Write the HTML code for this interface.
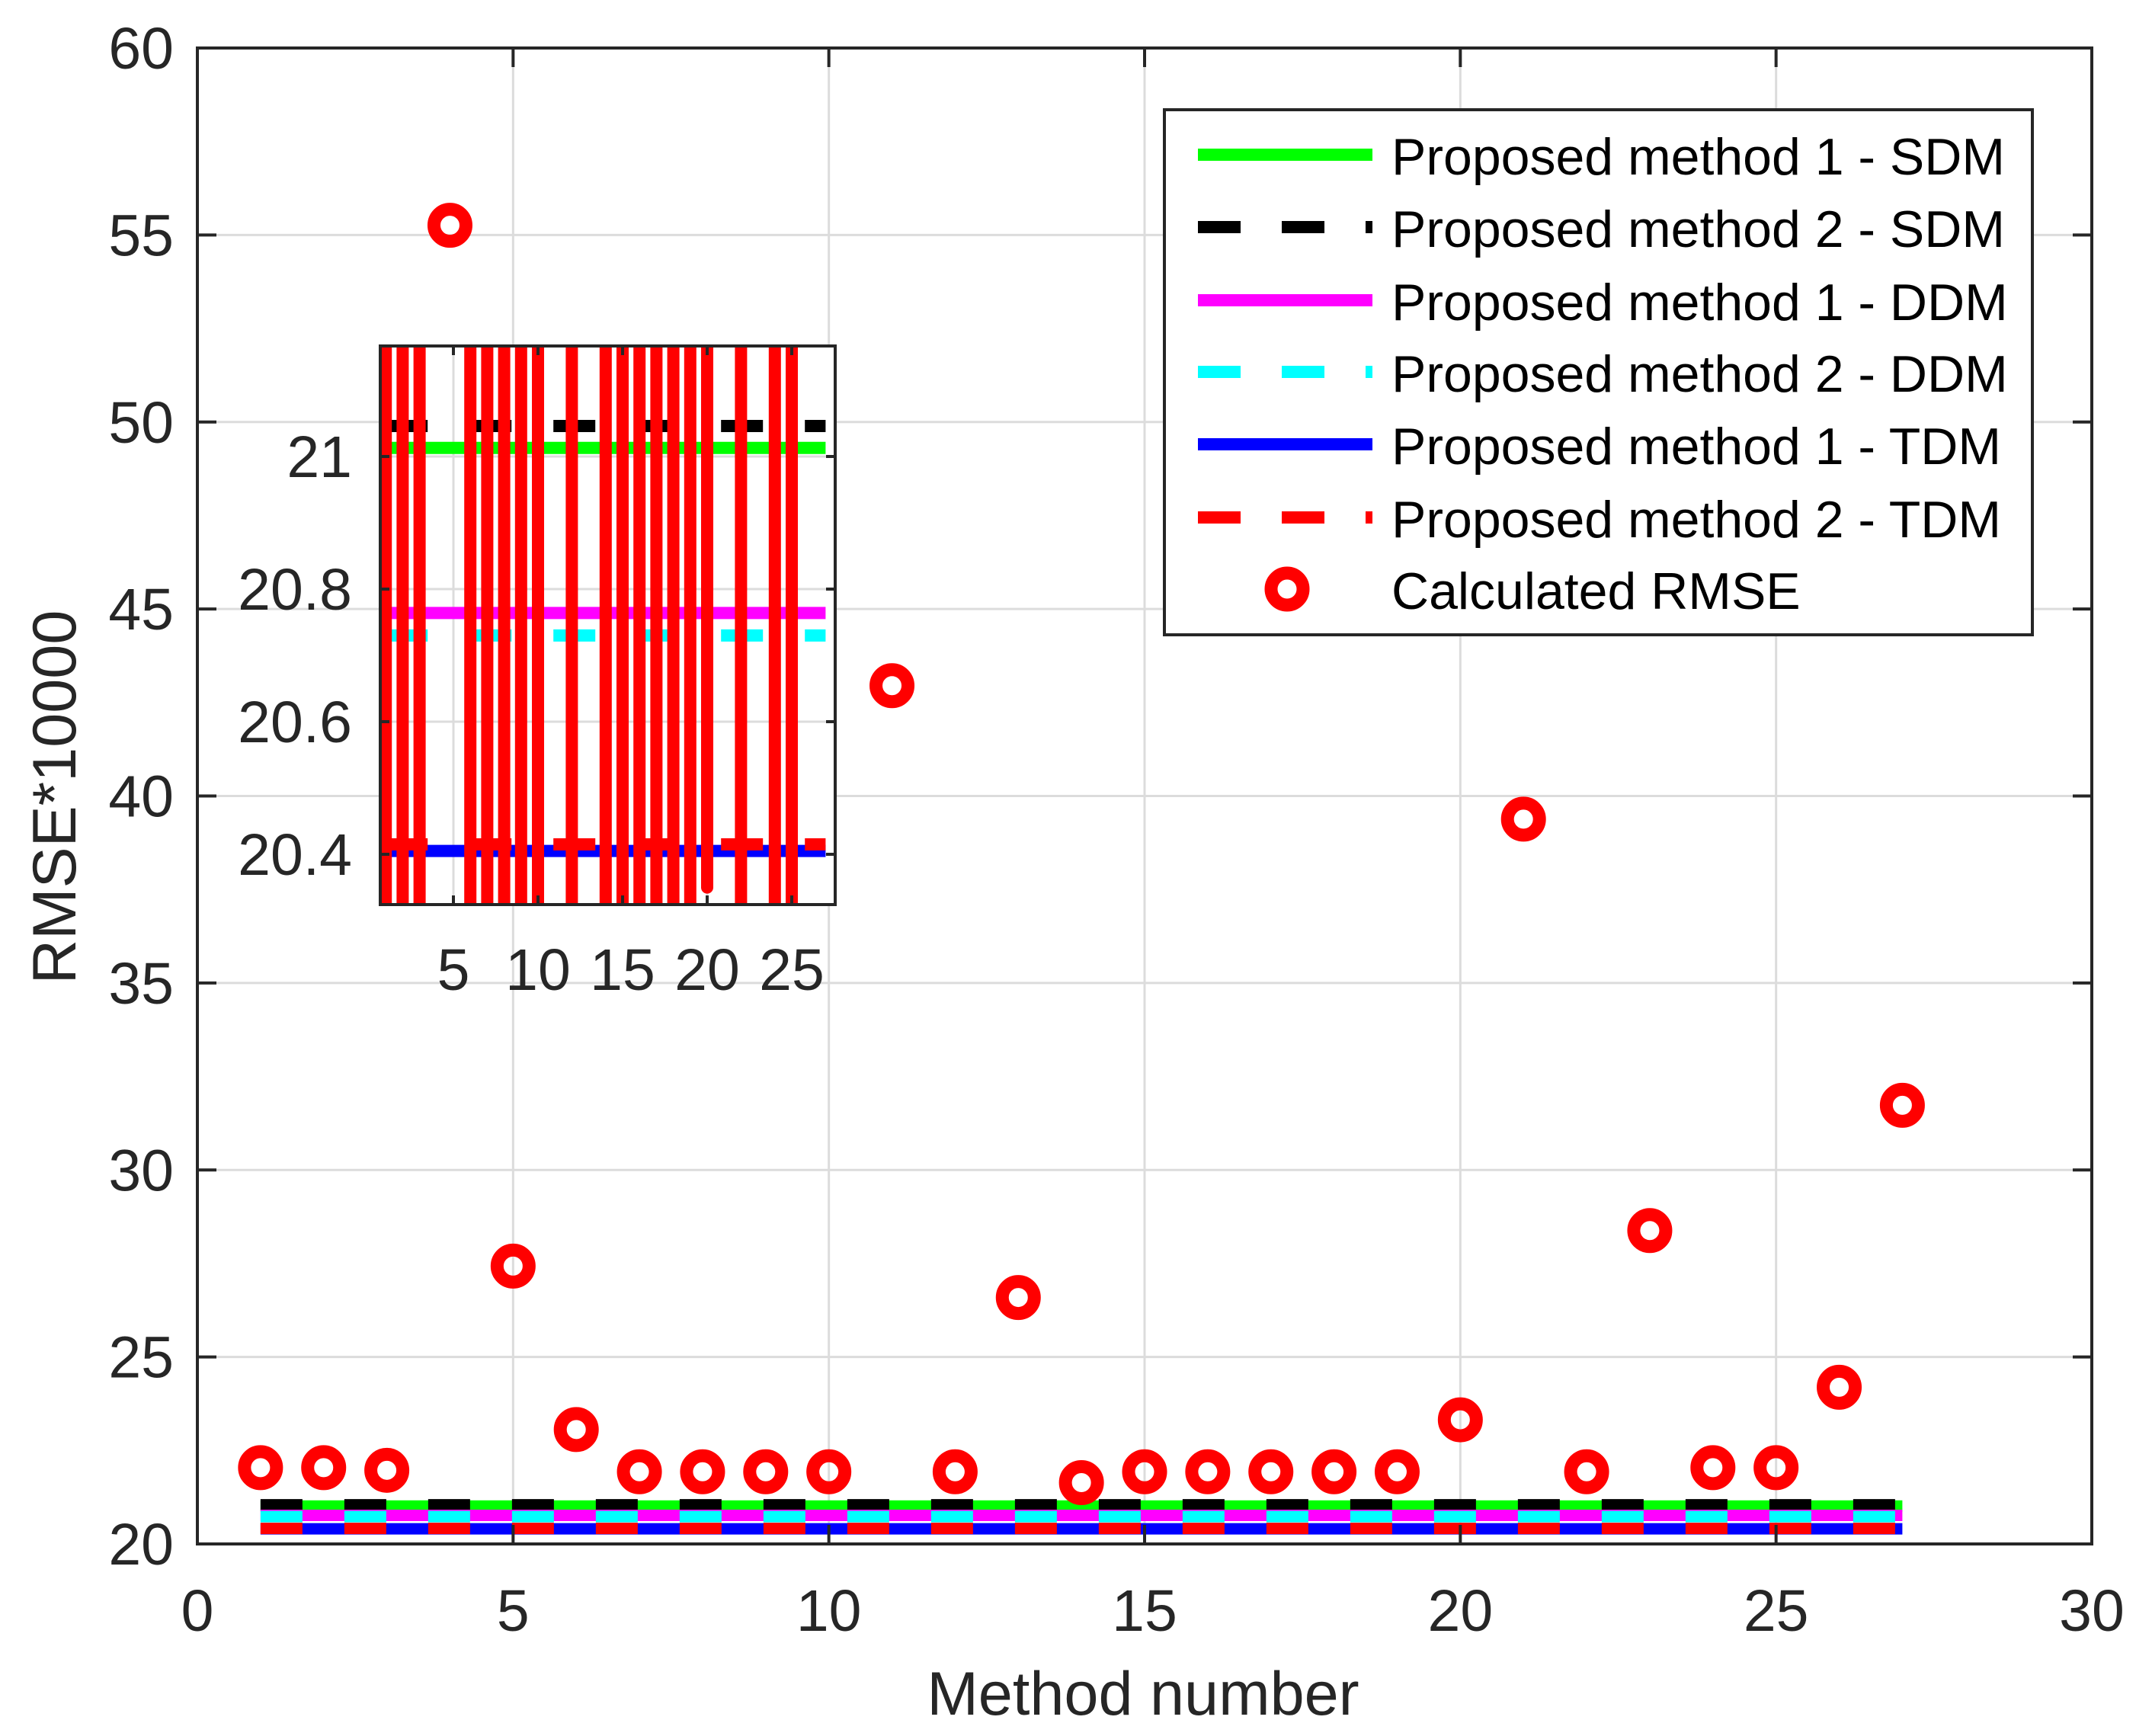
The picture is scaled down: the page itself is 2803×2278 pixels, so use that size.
<!DOCTYPE html>
<html><head><meta charset="utf-8"><style>
html,body{margin:0;padding:0;background:#fff;width:2803px;height:2278px;overflow:hidden;}
svg{display:block;font-family:"Liberation Sans",Arial,sans-serif;}
</style></head><body>
<svg id="chart" width="2803" height="2278" viewBox="0 0 2803 2278" xmlns="http://www.w3.org/2000/svg" style="overflow:hidden">
<defs>
<clipPath id="mainClip"><rect x="259" y="63" width="2486" height="1963"/></clipPath>
<clipPath id="insetClip"><rect x="499" y="454" width="597" height="733"/></clipPath>
</defs>
<g id="main"></g>
<g id="inset"></g>
<g id="legend"></g>
</svg>
<script>
const methods = [1,2,3,4,5,6,7,8,9,10,11,12,13,14,15,16,17,18,19,20,21,22,23,24,25,26,27];
const rmseValues = [22.04,22.04,21.97,55.26,27.43,23.06,21.93,21.93,21.93,21.93,42.95,21.93,26.59,21.64,21.93,21.93,21.93,21.93,21.93,23.32,39.38,21.93,28.38,22.04,22.04,24.19,31.73];
const seriesNames = ["Proposed method 1 - SDM","Proposed method 2 - SDM","Proposed method 1 - DDM","Proposed method 2 - DDM","Proposed method 1 - TDM","Proposed method 2 - TDM"];
const seriesLevels = [21.013,21.046,20.764,20.73,20.405,20.415];
const xTicks = [0,5,10,15,20,25,30];
const yTicks = [20,25,30,35,40,45,50,55,60];
const insetXTicks = [5,10,15,20,25];
const insetYTicks = [20.4,20.6,20.8,21];
const insetYTickLabels = ["20.4","20.6","20.8","21"];

const NS="http://www.w3.org/2000/svg";
function mk(tag, attrs, parent){const e=document.createElementNS(NS,tag);for(const k in attrs)e.setAttribute(k,attrs[k]);parent.appendChild(e);return e;}
const colors=["#00ff00","#000000","#ff00ff","#00ffff","#0000ff","#ff0000"];
const dashed=[false,true,false,true,false,true];
const TXT="#262626";

const L=259,R=2745,T=63,B=2026;
const xS=v=>L+(v-0)/(30-0)*(R-L);
const yS=v=>B-(v-20)/(60-20)*(B-T);
const main=document.getElementById('main');
mk('rect',{x:L,y:T,width:R-L,height:B-T,fill:'#fff'},main);
const grid=mk('g',{stroke:'#dcdcdc','stroke-width':3},main);


xTicks.forEach(v=>{mk('line',{x1:xS(v),x2:xS(v),y1:T,y2:B},grid);});
yTicks.forEach(v=>{mk('line',{x1:L,x2:R,y1:yS(v),y2:yS(v)},grid);});
const ml=mk('g',{'clip-path':'url(#mainClip)'},main);
seriesLevels.forEach((lv,i)=>{
  const l=mk('line',{x1:xS(methods[0]),x2:xS(methods[methods.length-1]),y1:yS(lv),y2:yS(lv),stroke:colors[i],'stroke-width':15},ml);
  if(dashed[i]) l.setAttribute('stroke-dasharray','55 55');
  
  
});
methods.forEach((m,i)=>{
  const c=mk('circle',{cx:xS(m),cy:yS(rmseValues[i]),r:21,fill:'none',stroke:'#ff0000','stroke-width':17},ml);
  
  
});
mk('rect',{x:L,y:T,width:R-L,height:B-T,fill:'none',stroke:TXT,'stroke-width':4},main);
const tk=mk('g',{stroke:TXT,'stroke-width':4},main);
xTicks.forEach(v=>{mk('line',{x1:xS(v),x2:xS(v),y1:B,y2:B-25},tk);mk('line',{x1:xS(v),x2:xS(v),y1:T,y2:T+25},tk);});
yTicks.forEach(v=>{mk('line',{x1:L,x2:L+25,y1:yS(v),y2:yS(v)},tk);mk('line',{x1:R,x2:R-25,y1:yS(v),y2:yS(v)},tk);});
xTicks.forEach(v=>{const t=mk('text',{x:xS(v),y:2140,'text-anchor':'middle','font-size':77,fill:TXT},main);t.textContent=v;
  
  });
yTicks.forEach(v=>{const t=mk('text',{x:228,y:yS(v)+27,'text-anchor':'end','font-size':77,fill:TXT},main);t.textContent=v;
  
  });
let xt=mk('text',{x:1500,y:2250,'text-anchor':'middle','font-size':81,fill:TXT},main);xt.textContent='Method number';


let yt=mk('text',{x:0,y:0,'text-anchor':'middle','font-size':81,fill:TXT,transform:'translate(99,1046) rotate(-90)'},main);yt.textContent='RMSE*10000';



const iL=499,iR=1096,iT=454,iB=1187;
const ixS=v=>595+(v-5)*22.2;
const iyS=v=>599-(v-21)*870;
const inset=document.getElementById('inset');
mk('rect',{x:iL,y:iT,width:iR-iL,height:iB-iT,fill:'#fff'},inset);
const ig=mk('g',{stroke:'#dcdcdc','stroke-width':3},inset);
insetXTicks.forEach(v=>mk('line',{x1:ixS(v),x2:ixS(v),y1:iT,y2:iB},ig));
insetYTicks.forEach(v=>mk('line',{x1:iL,x2:iR,y1:iyS(v),y2:iyS(v)},ig));
const il=mk('g',{'clip-path':'url(#insetClip)'},inset);
seriesLevels.forEach((lv,i)=>{
  const l=mk('line',{x1:ixS(methods[0]),x2:ixS(methods[methods.length-1]),y1:iyS(lv),y2:iyS(lv),stroke:colors[i],'stroke-width':16},il);
  if(dashed[i]) l.setAttribute('stroke-dasharray','55 55');
  
  
});
const RY=2584;
methods.forEach((m,i)=>{
  const cy=iyS(rmseValues[i]);
  const top=Math.max(iT,cy-RY), bot=Math.min(iB,cy+RY);
  if(bot<=iT) return;
  const e=mk('line',{x1:ixS(m),x2:ixS(m),y1:top,y2:bot,stroke:'#ff0000','stroke-width':16,'stroke-linecap':bot<iB?'round':'butt'},il);
  
  
});
mk('rect',{x:iL,y:iT,width:iR-iL,height:iB-iT,fill:'none',stroke:TXT,'stroke-width':4},inset);
const itk=mk('g',{stroke:TXT,'stroke-width':4},inset);
insetXTicks.forEach(v=>{mk('line',{x1:ixS(v),x2:ixS(v),y1:iB,y2:iB-12},itk);mk('line',{x1:ixS(v),x2:ixS(v),y1:iT,y2:iT+12},itk);});
insetYTicks.forEach(v=>{mk('line',{x1:iL,x2:iL+12,y1:iyS(v),y2:iyS(v)},itk);mk('line',{x1:iR,x2:iR-12,y1:iyS(v),y2:iyS(v)},itk);});
insetXTicks.forEach(v=>{const t=mk('text',{x:ixS(v),y:1299,'text-anchor':'middle','font-size':77,fill:TXT},inset);t.textContent=v;
  
  });
insetYTicks.forEach((v,i)=>{const t=mk('text',{x:462,y:iyS(v)+27,'text-anchor':'end','font-size':77,fill:TXT},inset);t.textContent=insetYTickLabels[i];
  
  });

const lg=document.getElementById('legend');
mk('rect',{x:1528,y:144,width:1139,height:689,fill:'#fff',stroke:TXT,'stroke-width':4},lg);
const rowsY=[205,300,396,490,585,681,775];
seriesNames.forEach((n,i)=>{
  const g=mk('g',{},lg);
  
  
  const l=mk('line',{x1:1572,x2:1801,y1:rowsY[i]-2,y2:rowsY[i]-2,stroke:colors[i],'stroke-width':16},g);
  if(dashed[i]) l.setAttribute('stroke-dasharray','56 54');
  const t=mk('text',{x:1826,y:rowsY[i]+24,'font-size':68,fill:'#000'},g);t.textContent=n;
});
const g7=mk('g',{},lg);


mk('circle',{cx:1689,cy:773,r:21,fill:'none',stroke:'#ff0000','stroke-width':17},g7);
const t7=mk('text',{x:1826,y:799,'font-size':68,fill:'#000'},g7);t7.textContent='Calculated RMSE';
</script>
</body></html>
